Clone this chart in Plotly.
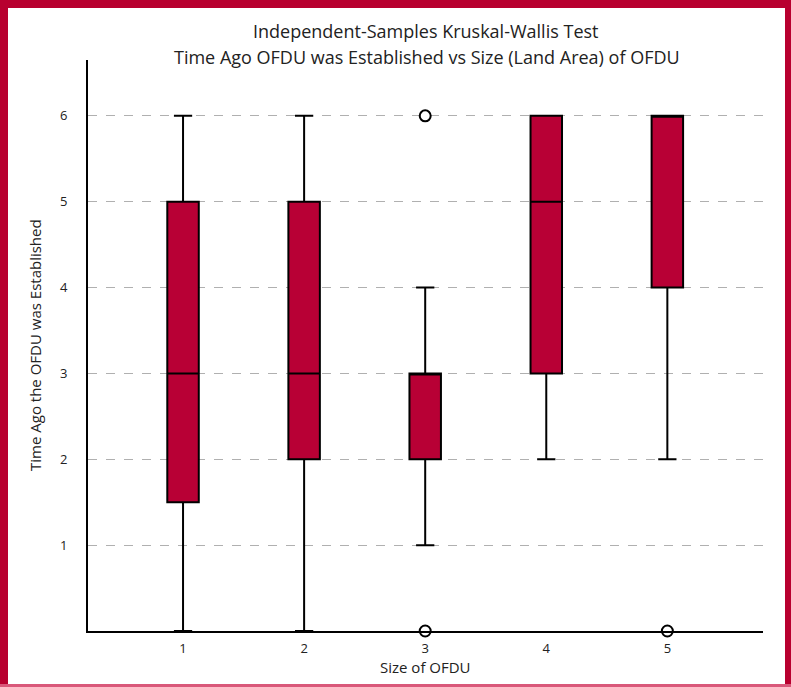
import plotly.graph_objects as go

# Box-plot summary statistics per size group
groups = [1, 2, 3, 4, 5]
lower_fence = [0, 0, 1, 2, 2]
q1 = [1.5, 2, 2, 3, 4]
median = [3, 3, 3, 5, 6]
q3 = [5, 5, 3, 6, 6]
upper_fence = [6, 6, 4, 6, 6]

# Outlying observations
outlier_x = [3, 3, 5]
outlier_y = [6, 0, 0]

y_ticks = [1, 2, 3, 4, 5, 6]

W, H = 791, 687
L, R, T, B = 88, 28, 60, 56
PW, PH = W - L - R, H - T - B


def px_x(p):
    return (p - L) / PW


def px_y(p):
    return (H - B - p) / PH


FONT = "Open Sans"
RED = "#B8002F"
BOX_FILL = "#B80035"
TEXT = "#222222"

fig = go.Figure()

fig.add_trace(go.Box(
    x=groups,
    q1=q1,
    median=median,
    q3=q3,
    lowerfence=lower_fence,
    upperfence=upper_fence,
    width=0.26,
    whiskerwidth=0.58,
    fillcolor=BOX_FILL,
    line=dict(color="black", width=2),
    boxpoints=False,
    showlegend=False,
    hoverinfo="skip",
))

fig.add_trace(go.Scatter(
    x=outlier_x,
    y=outlier_y,
    mode="markers",
    marker=dict(symbol="circle-open", size=11, color="black",
                line=dict(color="black", width=2)),
    cliponaxis=False,
    showlegend=False,
    hoverinfo="skip",
))


def frame_line(x0, y0, x1, y1, color, width):
    return dict(type="line", xref="paper", yref="paper",
                x0=px_x(x0), y0=px_y(y0), x1=px_x(x1), y1=px_y(y1),
                line=dict(color=color, width=width), layer="above")


# Red frame around the whole figure
frame = [
    frame_line(4, 0, 4, 687, RED, 8),
    frame_line(0, 4, 791, 4, RED, 8),
    frame_line(788, 0, 788, 687, RED, 6),
    frame_line(0, 685.5, 791, 685.5, "#D9587A", 3),
]

fig.update_layout(
    width=W,
    height=H,
    margin=dict(l=L, r=R, t=T, b=B),
    paper_bgcolor="white",
    plot_bgcolor="white",
    font=dict(family=FONT, size=12, color=TEXT),
    xaxis=dict(
        range=[0.215, 5.79],
        tickvals=groups,
        ticktext=[str(g) for g in groups],
        showgrid=False,
        zeroline=False,
        showline=True,
        linecolor="black",
        linewidth=2,
        ticks="",
        ticklabelstandoff=4,
        tickfont=dict(family=FONT, size=13, color=TEXT),
    ),
    yaxis=dict(
        range=[0, 6.65],
        tickvals=y_ticks,
        showgrid=True,
        gridcolor="#B0B0B0",
        griddash="dash",
        gridwidth=1,
        zeroline=False,
        showline=True,
        linecolor="black",
        linewidth=2,
        ticks="",
        ticklen=0,
        ticklabelstandoff=16,
        tickfont=dict(family=FONT, size=13, color=TEXT),
    ),
    shapes=frame,
    annotations=[
        dict(
            text="Independent-Samples Kruskal-Wallis Test",
            xref="paper", yref="paper",
            x=px_x(425), y=px_y(31),
            xanchor="center", yanchor="middle",
            showarrow=False,
            font=dict(family=FONT, size=18, color=TEXT),
        ),
        dict(
            text="Time Ago OFDU was Established vs Size (Land Area) of OFDU",
            xref="paper", yref="paper",
            x=px_x(427), y=px_y(57),
            xanchor="center", yanchor="middle",
            showarrow=False,
            font=dict(family=FONT, size=18, color=TEXT),
        ),
        dict(
            text="Time Ago the OFDU was Established",
            xref="paper", yref="paper",
            x=px_x(35), y=px_y(345),
            xanchor="center", yanchor="middle",
            textangle=-90,
            showarrow=False,
            font=dict(family=FONT, size=15, color=TEXT),
        ),
        dict(
            text="Size of OFDU",
            xref="paper", yref="paper",
            x=px_x(425), y=px_y(667),
            xanchor="center", yanchor="middle",
            showarrow=False,
            font=dict(family=FONT, size=15, color=TEXT),
        ),
    ],
)

fig.write_html("out.html")
